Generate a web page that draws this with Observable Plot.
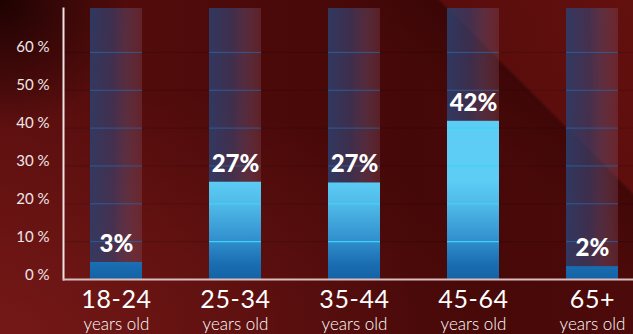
<!DOCTYPE html>
<html><head><meta charset="utf-8">
<script src="https://cdn.jsdelivr.net/npm/d3@7"></script>
<script src="https://cdn.jsdelivr.net/npm/@observablehq/plot@0.6"></script>
<style>
html,body{margin:0;padding:0;background:#4a0909;}
#chart{width:633px;height:334px;position:relative;overflow:hidden;
background:
 linear-gradient(225deg, rgba(150,30,25,0.30) 0%, rgba(140,28,22,0.26) 19.8%, rgba(30,0,0,0.25) 20.3%, rgba(30,0,0,0) 30%),
 radial-gradient(circle at 0 0, rgba(20,0,0,0.85) 0px, rgba(20,0,0,0) 130px),
 radial-gradient(ellipse at 0% 100%, rgba(125,28,26,0.75) 0%, rgba(125,28,26,0) 55%),
 linear-gradient(to right, #5a0e0e 0%, #4d0a0a 35%, #450808 65%, #4d0a0a 100%);
}
#chart svg{display:block;background:transparent;}
</style></head><body><div id="chart"></div>
<script>
const categories = ["18-24","25-34","35-44","45-64","65+"];
const subLabel = "years old";
const barHeights = [4.5, 25.7, 25.5, 41.8, 3.4];
const valueLabels = ["3%","27%","27%","42%","2%"];
const yTicks = [0,10,20,30,40,50,60];
const gridLevels = [10,20,30,40,50,60];
const trackMax = 71.6;

const rows = categories.map((c,i)=>({cat:c, h:barHeights[i], label:valueLabels[i]}));
const gridCells = rows.flatMap(r => gridLevels.map(g => ({cat:r.cat, y:g, inBar: g < r.h})));

const chart = Plot.plot({
  width:633, height:334, marginLeft:63, marginRight:0, marginTop:8, marginBottom:55,
  style:{background:"transparent", overflow:"visible", fontFamily:"Lato"},
  x:{type:"band", domain:categories, range:[54.7,652.8], paddingInner:0.565, paddingOuter:0.2825, axis:null},
  y:{domain:[0,trackMax], axis:null},
  marks:[
    Plot.ruleY(gridLevels, {stroke:"#000", strokeOpacity:0.16}),
    Plot.barY(categories, {x:d=>d, y:()=>trackMax, fill:"url(#trackGrad)"}),
    Plot.tickY(gridCells.filter(d=>!d.inBar), {x:"cat", y:"y", stroke:"#2f62a0", strokeWidth:1, strokeOpacity:0.85}),
    Plot.barY(rows, {x:"cat", y:"h", fill:"url(#barGrad)"}),
    Plot.tickY(gridCells.filter(d=>d.inBar), {x:"cat", y:"y", stroke:"#3fd3f3", strokeWidth:1.2}),
    Plot.text(rows, {x:"cat", y:"h", text:"label", dy:-10.5, lineAnchor:"bottom", fill:"white", fontSize:24, fontWeight:900}),
    Plot.text(categories, {x:d=>d, frameAnchor:"bottom", text:d=>d, dy:28.5, lineAnchor:"bottom", fill:"white", fontSize:25, style:"letter-spacing:0.6px"}),
    Plot.text(categories, {x:d=>d, frameAnchor:"bottom", text:()=>subLabel, dy:50, lineAnchor:"bottom", fill:"white", fontSize:17, fontWeight:300}),
    Plot.text(yTicks, {y:d=>d, frameAnchor:"left", text:d=>`${d} %`, dx:-14, textAnchor:"end", lineAnchor:"bottom", fill:"#f2e6e6", fontSize:15}),
    Plot.frame({anchor:"left", stroke:"#efe3e3", strokeWidth:2}),
    Plot.ruleY([0], {stroke:"#d9bebe", strokeWidth:2})
  ]
});

const svg = d3.select(chart);
svg.selectAll("text").filter(function(){ return this.textContent && /^\d+-\d+$|^65\+$/.test(this.textContent); })
  .style("letter-spacing","0.6px");
const y = chart.scale("y");
const defs = svg.insert("defs", ":first-child");
const bg = defs.append("linearGradient").attr("id","barGrad").attr("gradientUnits","userSpaceOnUse")
  .attr("x1",0).attr("x2",0).attr("y1", y.apply(0)).attr("y2", y.apply(26));
[[0,"#1462a5"],[0.15,"#1a6db1"],[0.4,"#3190cd"],[0.75,"#4fb9e8"],[1,"#5dcdf5"]].forEach(([o,c])=>
  bg.append("stop").attr("offset",o).attr("stop-color",c));
const tg = defs.append("linearGradient").attr("id","trackGrad").attr("x1",0).attr("x2",1).attr("y1",0).attr("y2",0);
[[0,"rgb(45,62,108)",0.88],[0.45,"rgb(58,62,105)",0.7],[1,"rgb(135,92,118)",0.28]].forEach(([o,c,a])=>
  tg.append("stop").attr("offset",o).attr("stop-color",c).attr("stop-opacity",a));

document.getElementById("chart").appendChild(chart);
</script></body></html>
